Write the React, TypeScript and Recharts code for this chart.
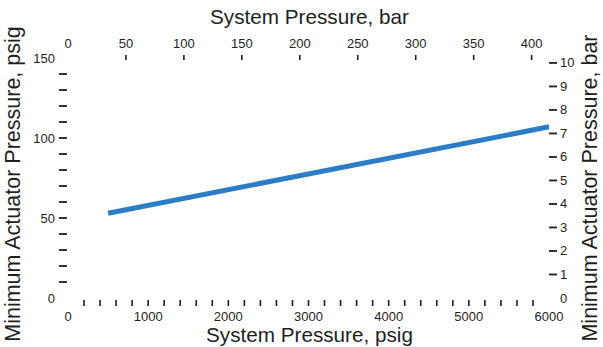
import { LineChart, Line, XAxis, YAxis } from 'recharts'

// system pressure (psig) vs minimum actuator pressure (psig)
const systemPsig = [500, 6000]
const actuatorPsig = [53, 107]

const psigLabels = [0, 1000, 2000, 3000, 4000, 5000, 6000]
const psigMinorTicks = [
  0, 200, 400, 600, 800, 1000, 1200, 1400, 1600, 1800, 2000, 2200, 2400, 2600, 2800, 3000,
  3200, 3400, 3600, 3800, 4000, 4200, 4400, 4600, 4800, 5000, 5200, 5400, 5600, 5800, 6000,
]
const barTicks = [0, 50, 100, 150, 200, 250, 300, 350, 400]
const actPsigTicks = [0, 10, 20, 30, 40, 50, 60, 70, 80, 90, 100, 110, 120, 130, 140, 150]
const actPsigLabels = [0, 50, 100, 150]
const actBarTicks = [0, 1, 2, 3, 4, 5, 6, 7, 8, 9, 10]

const data = systemPsig.map((p, i) => ({ psig: p, act: actuatorPsig[i] }))

const FONT = '"Liberation Sans", Arial, Helvetica, sans-serif'
const INK = '#1e1e1e'

function BottomTick({ x, y, payload }: any) {
  const v = payload.value
  return (
    <g>
      {v > 0 && v < 6000 && <line x1={x} x2={x} y1={y + 2} y2={y + 8} stroke={INK} strokeWidth={1.6} />}
      {psigLabels.includes(v) && (
        <text x={x} y={y + 23} textAnchor="middle" fontSize={13} fontFamily={FONT} fill={INK}>
          {v}
        </text>
      )}
    </g>
  )
}

function TopTick({ x, y, payload }: any) {
  const v = payload.value
  return (
    <g>
      {v > 0 && <line x1={x} x2={x} y1={y - 3} y2={y + 2} stroke={INK} strokeWidth={1.6} />}
      <text x={x} y={y - 10} textAnchor="middle" fontSize={13} fontFamily={FONT} fill={INK}>
        {v}
      </text>
    </g>
  )
}

function LeftTick({ x, y, payload }: any) {
  const v = payload.value
  return (
    <g>
      {v > 0 && v < 150 && <line x1={x - 9} x2={x - 1} y1={y} y2={y} stroke={INK} strokeWidth={1.8} />}
      {actPsigLabels.includes(v) && (
        <text x={x - 13} y={y + 4.5} textAnchor="end" fontSize={13} fontFamily={FONT} fill={INK}>
          {v}
        </text>
      )}
    </g>
  )
}

function RightTick({ x, y, payload }: any) {
  const v = payload.value
  return (
    <g>
      {v > 0 && <line x1={x} x2={x + 8} y1={y} y2={y} stroke={INK} strokeWidth={1.8} />}
      <text x={x + 11} y={y + 4.5} textAnchor="start" fontSize={13} fontFamily={FONT} fill={INK}>
        {v}
      </text>
    </g>
  )
}

function HTitle({ viewBox, text, baseline }: any) {
  const cx = viewBox.x + viewBox.width / 2
  return (
    <text x={cx + 1} y={baseline} textAnchor="middle" fontSize={20.7} fontFamily={FONT} fill={INK}>
      {text}
    </text>
  )
}

function VTitle({ text, cx, cy }: any) {
  return (
    <text
      x={cx}
      y={cy}
      transform={`rotate(-90, ${cx}, ${cy})`}
      textAnchor="middle"
      fontSize={21.5}
      fontFamily={FONT}
      fill={INK}
    >
      {text}
    </text>
  )
}

export default function App() {
  return (
    <div style={{ position: 'absolute', left: 0, top: 0, background: '#fff' }}>
      <LineChart width={603} height={347} data={data} margin={{ top: 0, right: 0, bottom: 0, left: 0 }}>
        <XAxis
          xAxisId="psig"
          dataKey="psig"
          type="number"
          orientation="bottom"
          domain={[0, 6000]}
          ticks={psigMinorTicks}
          interval={0}
          height={49}
          axisLine={false}
          tickLine={false}
          tickSize={0}
          tickMargin={0}
          tick={<BottomTick />}
          label={<HTitle text="System Pressure, psig" baseline={342} />}
        />
        {/* bar scale over the same span: 6000 psig ≈ 415 bar */}
        <XAxis
          xAxisId="bar"
          dataKey="psig"
          type="number"
          orientation="top"
          domain={[0, 415]}
          allowDataOverflow
          ticks={barTicks}
          interval={0}
          height={58}
          axisLine={false}
          tickLine={false}
          tickSize={0}
          tickMargin={0}
          tick={<TopTick />}
          label={<HTitle text="System Pressure, bar" baseline={24} />}
        />
        <YAxis
          yAxisId="psig"
          type="number"
          orientation="left"
          domain={[0, 150]}
          ticks={actPsigTicks}
          interval={0}
          width={68}
          axisLine={false}
          tickLine={false}
          tickSize={0}
          tickMargin={0}
          tick={<LeftTick />}
          label={<VTitle text="Minimum Actuator Pressure, psig" cx={20} cy={184} />}
        />
        <YAxis
          yAxisId="bar"
          type="number"
          orientation="right"
          domain={[0, 10.21]}
          allowDataOverflow
          ticks={actBarTicks}
          interval={0}
          width={54}
          axisLine={false}
          tickLine={false}
          tickSize={0}
          tickMargin={0}
          tick={<RightTick />}
          label={<VTitle text="Minimum Actuator Pressure, bar" cx={597} cy={188} />}
        />
        <Line
          xAxisId="psig"
          yAxisId="psig"
          dataKey="act"
          type="linear"
          stroke="#2c7dc6"
          strokeWidth={5}
          dot={false}
          activeDot={false}
          isAnimationActive={false}
        />
      </LineChart>
    </div>
  )
}
